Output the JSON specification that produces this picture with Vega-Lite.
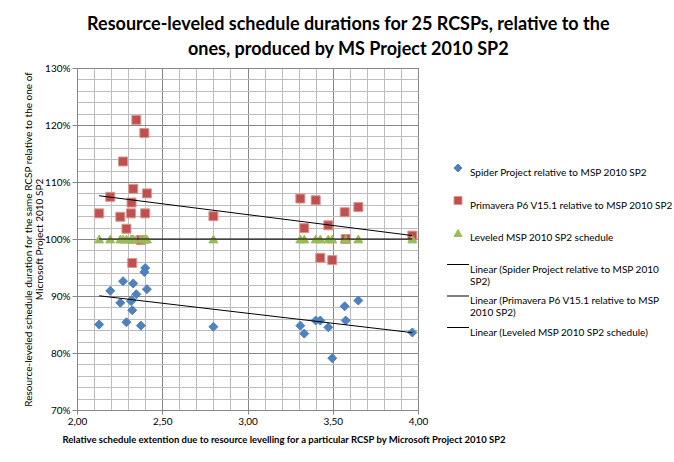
{
  "$schema": "https://vega.github.io/schema/vega-lite/v6.json",
  "width": 341,
  "height": 342,
  "autosize": "none",
  "padding": {"left": 77, "top": 68, "right": 256, "bottom": 52},
  "background": "white",
  "config": {"view": {"stroke": "#878787", "strokeWidth": 1}},
  "title": {
    "text": ["Resource-leveled schedule durations for 25 RCSPs, relative to the", "ones, produced by MS Project 2010 SP2"],
    "font": "Lato", "fontSize": 18, "fontWeight": "bold", "lineHeight": 25,
    "anchor": "middle", "frame": "bounds", "offset": 4, "color": "black"
  },
  "data": {"values": [
    {"x": 2.13, "S": 0.850, "P": 1.045, "L": 1.0},
    {"x": 2.195, "S": 0.909, "P": 1.074, "L": 1.0},
    {"x": 2.254, "S": 0.888, "P": 1.039, "L": 1.0},
    {"x": 2.27, "S": 0.926, "P": 1.136, "L": 1.0},
    {"x": 2.29, "S": 0.854, "P": 1.018, "L": 1.0},
    {"x": 2.317, "S": 0.891, "P": 1.045, "L": 1.0},
    {"x": 2.32, "S": 0.893, "P": 1.064, "L": 1.0},
    {"x": 2.324, "S": 0.875, "P": 0.958, "L": 1.0},
    {"x": 2.33, "S": 0.922, "P": 1.088, "L": 1.0},
    {"x": 2.348, "S": 0.903, "P": 1.209, "L": 1.0},
    {"x": 2.375, "S": 0.848, "P": 0.998, "L": 1.0},
    {"x": 2.395, "S": 0.942, "P": 1.186, "L": 1.0},
    {"x": 2.40, "S": 0.949, "P": 1.045, "L": 1.0},
    {"x": 2.41, "S": 0.912, "P": 1.080, "L": 1.0},
    {"x": 2.80, "S": 0.846, "P": 1.040, "L": 1.0},
    {"x": 3.31, "S": 0.848, "P": 1.071, "L": 1.0},
    {"x": 3.333, "S": 0.834, "P": 1.019, "L": 1.0},
    {"x": 3.40, "S": 0.857, "P": 1.068, "L": 1.0},
    {"x": 3.427, "S": 0.857, "P": 0.967, "L": 1.0},
    {"x": 3.474, "S": 0.845, "P": 1.024, "L": 1.0},
    {"x": 3.497, "S": 0.791, "P": 0.963, "L": 1.0},
    {"x": 3.57, "S": 0.882, "P": 1.047, "L": 1.0},
    {"x": 3.576, "S": 0.857, "P": 1.000, "L": 1.0},
    {"x": 3.65, "S": 0.892, "P": 1.056, "L": 1.0},
    {"x": 3.967, "S": 0.836, "P": 1.006, "L": 1.0}
  ]},
  "transform": [{"fold": ["S", "P", "L"], "as": ["key", "value"]}],
  "layer": [
    {
      "mark": {"type": "point", "filled": true, "size": 81, "opacity": 1, "strokeWidth": 1},
      "encoding": {
        "x": {"field": "x", "type": "quantitative",
          "scale": {"domain": [2, 4], "nice": false, "zero": false},
          "axis": {"values": [2, 2.5, 3, 3.5, 4], "labelExpr": "replace(format(datum.value, '.2f'), '.', ',')",
            "title": "Relative schedule extention  due to resource  levelling for a particular RCSP by Microsoft Project 2010 SP2",
            "titleFont": "Lato", "titleFontSize": 9.5, "titleFontWeight": "bold", "titleColor": "black", "titlePadding": 8,
            "titleX": -15, "titleAlign": "left", "titleAnchor": "start",
            "labelFont": "Lato", "labelFontSize": 10, "labelColor": "black", "labelPadding": 2, "labelFlush": false,
            "tickSize": 4, "tickColor": "#878787", "domainColor": "#878787", "grid": true, "gridColor": "#878787"}},
        "y": {"field": "value", "type": "quantitative",
          "scale": {"domain": [0.7, 1.3], "nice": false, "zero": false},
          "axis": {"values": [0.7, 0.8, 0.9, 1.0, 1.1, 1.2, 1.3], "format": ".0%",
            "title": ["Resource-leveled schedule duration for the same RCSP relative to the one of", "Microsoft Project 2010 SP2"],
            "titleFont": "Lato", "titleFontSize": 10, "titleFontWeight": "normal", "titleColor": "black", "titlePadding": 0, "titleLineHeight": 11,
            "labelFont": "Lato", "labelFontSize": 10, "labelColor": "black", "labelPadding": 2,
            "tickSize": 5, "tickColor": "#878787", "domainColor": "#878787", "grid": true, "gridColor": "#878787"}},
        "fill": {"field": "key", "type": "nominal",
          "scale": {"domain": ["S", "P", "L", "LS", "LP", "LL"], "range": ["#4F81BD", "#C0504D", "#9BBB59", "black", "black", "black"]},
          "legend": {"orient": "none", "legendX": 376, "legendY": 95, "title": null,
            "labelExpr": "datum.value == 'S' ? ['Spider Project  relative to MSP 2010 SP2', ''] : datum.value == 'P' ? ['Primavera P6 V15.1 relative to MSP 2010 SP2', ''] : datum.value == 'L' ? ['Leveled MSP 2010 SP2 schedule', ''] : datum.value == 'LS' ? ['Linear (Spider Project  relative to MSP 2010', 'SP2)'] : datum.value == 'LP' ? ['Linear (Primavera P6 V15.1 relative to MSP', '2010 SP2)'] : ['Linear (Leveled MSP 2010 SP2 schedule)', '']",
            "labelFont": "Lato", "labelFontSize": 10, "labelColor": "black", "labelLimit": 300, "labelOffset": 7,
            "labelBaseline": "top", "labelLineHeight": 13,
            "symbolSize": 64, "symbolStrokeWidth": 1, "rowPadding": 4.5}},
        "stroke": {"field": "key", "type": "nominal",
          "scale": {"domain": ["S", "P", "L", "LS", "LP", "LL"], "range": ["#4F81BD", "#D99694", "#9BBB59", "black", "black", "black"]}},
        "shape": {"field": "key", "type": "nominal",
          "scale": {"domain": ["S", "P", "L", "LS", "LP", "LL"], "range": ["diamond", "square", "triangle-up", "M-2.75,0H2.75", "M-2.75,0H2.75", "M-2.75,0H2.75"]}}
      }
    },
    {
      "transform": [{"regression": "value", "on": "x", "groupby": ["key"]}],
      "mark": {"type": "line", "color": "black", "strokeWidth": 1},
      "encoding": {
        "x": {"field": "x", "type": "quantitative",
          "axis": {"orient": "top", "values": [2.1, 2.2, 2.3, 2.4, 2.6, 2.7, 2.8, 2.9, 3.1, 3.2, 3.3, 3.4, 3.6, 3.7, 3.8, 3.9],
            "grid": true, "gridColor": "#bdbdbd", "labels": false, "ticks": false, "domain": false, "title": null}},
        "y": {"field": "value", "type": "quantitative",
          "axis": {"orient": "right", "values": [0.72, 0.74, 0.76, 0.78, 0.82, 0.84, 0.86, 0.88, 0.92, 0.94, 0.96, 0.98, 1.02, 1.04, 1.06, 1.08, 1.12, 1.14, 1.16, 1.18, 1.22, 1.24, 1.26, 1.28],
            "grid": true, "gridColor": "#bdbdbd", "labels": false, "ticks": false, "domain": false, "title": null}},
        "detail": {"field": "key"}
      }
    }
  ],
  "resolve": {"axis": {"x": "independent", "y": "independent"}}
}
